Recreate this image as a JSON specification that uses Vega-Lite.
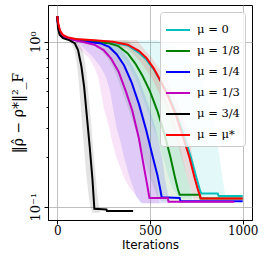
{
  "$schema": "https://vega.github.io/schema/vega-lite/v6.json",
  "width": 204,
  "height": 215,
  "autosize": {"type": "none"},
  "padding": {"left": 48, "top": 5, "right": 14, "bottom": 46},
  "config": {
    "view": {"stroke": "black", "strokeWidth": 1},
    "axis": {"domainColor": "black", "tickColor": "black", "labelColor": "black", "titleColor": "black", "gridColor": "#b0b0b0", "gridWidth": 0.8}
  },
  "datasets": {
    "lines": [
      {"s":"μ = 0","x":0,"y":1.43},{"s":"μ = 0","x":5,"y":1.25},{"s":"μ = 0","x":15,"y":1.14},{"s":"μ = 0","x":30,"y":1.08},{"s":"μ = 0","x":60,"y":1.05},{"s":"μ = 0","x":100,"y":1.03},{"s":"μ = 0","x":200,"y":1.01},{"s":"μ = 0","x":300,"y":0.99},{"s":"μ = 0","x":380,"y":0.95},{"s":"μ = 0","x":440,"y":0.86},{"s":"μ = 0","x":480,"y":0.78},{"s":"μ = 0","x":520,"y":0.68},{"s":"μ = 0","x":560,"y":0.57},{"s":"μ = 0","x":600,"y":0.47},{"s":"μ = 0","x":640,"y":0.37},{"s":"μ = 0","x":680,"y":0.28},{"s":"μ = 0","x":720,"y":0.2},{"s":"μ = 0","x":750,"y":0.15},{"s":"μ = 0","x":770,"y":0.125},{"s":"μ = 0","x":778,"y":0.12},{"s":"μ = 0","x":865,"y":0.12},{"s":"μ = 0","x":870,"y":0.116},{"s":"μ = 0","x":1000,"y":0.116},
      {"s":"μ = 1/8","x":0,"y":1.43},{"s":"μ = 1/8","x":5,"y":1.25},{"s":"μ = 1/8","x":15,"y":1.14},{"s":"μ = 1/8","x":30,"y":1.08},{"s":"μ = 1/8","x":60,"y":1.05},{"s":"μ = 1/8","x":100,"y":1.03},{"s":"μ = 1/8","x":200,"y":1.0},{"s":"μ = 1/8","x":280,"y":0.98},{"s":"μ = 1/8","x":330,"y":0.94},{"s":"μ = 1/8","x":380,"y":0.85},{"s":"μ = 1/8","x":420,"y":0.74},{"s":"μ = 1/8","x":460,"y":0.62},{"s":"μ = 1/8","x":500,"y":0.5},{"s":"μ = 1/8","x":540,"y":0.38},{"s":"μ = 1/8","x":580,"y":0.27},{"s":"μ = 1/8","x":610,"y":0.2},{"s":"μ = 1/8","x":635,"y":0.15},{"s":"μ = 1/8","x":650,"y":0.128},{"s":"μ = 1/8","x":660,"y":0.118},{"s":"μ = 1/8","x":768,"y":0.118},{"s":"μ = 1/8","x":772,"y":0.112},{"s":"μ = 1/8","x":1000,"y":0.112},
      {"s":"μ = 1/4","x":0,"y":1.43},{"s":"μ = 1/4","x":5,"y":1.25},{"s":"μ = 1/4","x":15,"y":1.14},{"s":"μ = 1/4","x":30,"y":1.08},{"s":"μ = 1/4","x":60,"y":1.05},{"s":"μ = 1/4","x":100,"y":1.02},{"s":"μ = 1/4","x":150,"y":1.0},{"s":"μ = 1/4","x":230,"y":0.98},{"s":"μ = 1/4","x":280,"y":0.93},{"s":"μ = 1/4","x":320,"y":0.84},{"s":"μ = 1/4","x":360,"y":0.72},{"s":"μ = 1/4","x":400,"y":0.57},{"s":"μ = 1/4","x":440,"y":0.42},{"s":"μ = 1/4","x":480,"y":0.29},{"s":"μ = 1/4","x":515,"y":0.2},{"s":"μ = 1/4","x":540,"y":0.155},{"s":"μ = 1/4","x":555,"y":0.128},{"s":"μ = 1/4","x":563,"y":0.114},{"s":"μ = 1/4","x":660,"y":0.113},{"s":"μ = 1/4","x":664,"y":0.108},{"s":"μ = 1/4","x":1000,"y":0.108},
      {"s":"μ = 1/3","x":0,"y":1.43},{"s":"μ = 1/3","x":5,"y":1.25},{"s":"μ = 1/3","x":15,"y":1.14},{"s":"μ = 1/3","x":30,"y":1.08},{"s":"μ = 1/3","x":60,"y":1.04},{"s":"μ = 1/3","x":100,"y":1.02},{"s":"μ = 1/3","x":150,"y":0.99},{"s":"μ = 1/3","x":200,"y":0.96},{"s":"μ = 1/3","x":250,"y":0.89},{"s":"μ = 1/3","x":290,"y":0.79},{"s":"μ = 1/3","x":330,"y":0.66},{"s":"μ = 1/3","x":370,"y":0.5},{"s":"μ = 1/3","x":405,"y":0.38},{"s":"μ = 1/3","x":440,"y":0.26},{"s":"μ = 1/3","x":465,"y":0.18},{"s":"μ = 1/3","x":485,"y":0.135},{"s":"μ = 1/3","x":497,"y":0.113},{"s":"μ = 1/3","x":596,"y":0.113},{"s":"μ = 1/3","x":600,"y":0.107},{"s":"μ = 1/3","x":955,"y":0.107},
      {"s":"μ = 3/4","x":0,"y":1.43},{"s":"μ = 3/4","x":4,"y":1.21},{"s":"μ = 3/4","x":13,"y":1.1},{"s":"μ = 3/4","x":31,"y":1.05},{"s":"μ = 3/4","x":67,"y":1.02},{"s":"μ = 3/4","x":94,"y":0.98},{"s":"μ = 3/4","x":112,"y":0.89},{"s":"μ = 3/4","x":130,"y":0.71},{"s":"μ = 3/4","x":145,"y":0.53},{"s":"μ = 3/4","x":157,"y":0.38},{"s":"μ = 3/4","x":175,"y":0.23},{"s":"μ = 3/4","x":190,"y":0.145},{"s":"μ = 3/4","x":200,"y":0.097},{"s":"μ = 3/4","x":265,"y":0.096},{"s":"μ = 3/4","x":268,"y":0.094},{"s":"μ = 3/4","x":409,"y":0.094},
      {"s":"μ = μ*","x":0,"y":1.43},{"s":"μ = μ*","x":5,"y":1.3},{"s":"μ = μ*","x":15,"y":1.17},{"s":"μ = μ*","x":30,"y":1.1},{"s":"μ = μ*","x":60,"y":1.06},{"s":"μ = μ*","x":100,"y":1.04},{"s":"μ = μ*","x":200,"y":1.02},{"s":"μ = μ*","x":300,"y":1.0},{"s":"μ = μ*","x":380,"y":0.96},{"s":"μ = μ*","x":440,"y":0.88},{"s":"μ = μ*","x":480,"y":0.8},{"s":"μ = μ*","x":520,"y":0.69},{"s":"μ = μ*","x":560,"y":0.57},{"s":"μ = μ*","x":600,"y":0.46},{"s":"μ = μ*","x":640,"y":0.36},{"s":"μ = μ*","x":680,"y":0.26},{"s":"μ = μ*","x":712,"y":0.2},{"s":"μ = μ*","x":740,"y":0.15},{"s":"μ = μ*","x":760,"y":0.125},{"s":"μ = μ*","x":775,"y":0.112},{"s":"μ = μ*","x":1000,"y":0.112}
    ],
    "bands": [
      {"s":"μ = 0","y":1.02,"lo":200,"hi":540},{"s":"μ = 0","y":0.9,"lo":300,"hi":660},{"s":"μ = 0","y":0.8,"lo":350,"hi":710},{"s":"μ = 0","y":0.7,"lo":390,"hi":745},{"s":"μ = 0","y":0.6,"lo":420,"hi":775},{"s":"μ = 0","y":0.5,"lo":450,"hi":800},{"s":"μ = 0","y":0.4,"lo":480,"hi":825},{"s":"μ = 0","y":0.3,"lo":520,"hi":850},{"s":"μ = 0","y":0.25,"lo":545,"hi":862},{"s":"μ = 0","y":0.2,"lo":570,"hi":875},{"s":"μ = 0","y":0.15,"lo":600,"hi":890},{"s":"μ = 0","y":0.13,"lo":620,"hi":900},{"s":"μ = 0","y":0.12,"lo":640,"hi":905},{"s":"μ = 0","y":0.112,"lo":660,"hi":905},
      {"s":"μ = 1/8","y":1.02,"lo":150,"hi":380},{"s":"μ = 1/8","y":0.9,"lo":230,"hi":430},{"s":"μ = 1/8","y":0.8,"lo":270,"hi":470},{"s":"μ = 1/8","y":0.7,"lo":300,"hi":510},{"s":"μ = 1/8","y":0.6,"lo":325,"hi":545},{"s":"μ = 1/8","y":0.5,"lo":350,"hi":570},{"s":"μ = 1/8","y":0.4,"lo":380,"hi":600},{"s":"μ = 1/8","y":0.3,"lo":420,"hi":640},{"s":"μ = 1/8","y":0.25,"lo":440,"hi":655},{"s":"μ = 1/8","y":0.2,"lo":465,"hi":675},{"s":"μ = 1/8","y":0.15,"lo":500,"hi":700},{"s":"μ = 1/8","y":0.13,"lo":520,"hi":715},{"s":"μ = 1/8","y":0.115,"lo":540,"hi":725},{"s":"μ = 1/8","y":0.108,"lo":560,"hi":735},
      {"s":"μ = 1/4","y":1.02,"lo":100,"hi":280},{"s":"μ = 1/4","y":0.9,"lo":150,"hi":345},{"s":"μ = 1/4","y":0.8,"lo":195,"hi":380},{"s":"μ = 1/4","y":0.7,"lo":235,"hi":410},{"s":"μ = 1/4","y":0.6,"lo":265,"hi":440},{"s":"μ = 1/4","y":0.5,"lo":285,"hi":465},{"s":"μ = 1/4","y":0.4,"lo":300,"hi":495},{"s":"μ = 1/4","y":0.3,"lo":320,"hi":530},{"s":"μ = 1/4","y":0.25,"lo":340,"hi":545},{"s":"μ = 1/4","y":0.2,"lo":360,"hi":565},{"s":"μ = 1/4","y":0.15,"lo":390,"hi":580},{"s":"μ = 1/4","y":0.13,"lo":410,"hi":590},{"s":"μ = 1/4","y":0.115,"lo":426,"hi":600},{"s":"μ = 1/4","y":0.105,"lo":450,"hi":605},
      {"s":"μ = 1/3","y":1.02,"lo":60,"hi":230},{"s":"μ = 1/3","y":0.9,"lo":120,"hi":300},{"s":"μ = 1/3","y":0.8,"lo":170,"hi":340},{"s":"μ = 1/3","y":0.7,"lo":200,"hi":370},{"s":"μ = 1/3","y":0.6,"lo":222,"hi":400},{"s":"μ = 1/3","y":0.5,"lo":235,"hi":425},{"s":"μ = 1/3","y":0.4,"lo":250,"hi":455},{"s":"μ = 1/3","y":0.3,"lo":280,"hi":485},{"s":"μ = 1/3","y":0.25,"lo":295,"hi":500},{"s":"μ = 1/3","y":0.2,"lo":318,"hi":515},{"s":"μ = 1/3","y":0.15,"lo":360,"hi":530},{"s":"μ = 1/3","y":0.13,"lo":390,"hi":540},{"s":"μ = 1/3","y":0.115,"lo":430,"hi":545},{"s":"μ = 1/3","y":0.105,"lo":460,"hi":550},
      {"s":"μ = 3/4","y":1.0,"lo":70,"hi":110},{"s":"μ = 3/4","y":0.9,"lo":90,"hi":135},{"s":"μ = 3/4","y":0.8,"lo":100,"hi":145},{"s":"μ = 3/4","y":0.7,"lo":108,"hi":153},{"s":"μ = 3/4","y":0.6,"lo":114,"hi":160},{"s":"μ = 3/4","y":0.5,"lo":120,"hi":167},{"s":"μ = 3/4","y":0.4,"lo":127,"hi":175},{"s":"μ = 3/4","y":0.3,"lo":135,"hi":185},{"s":"μ = 3/4","y":0.2,"lo":148,"hi":198},{"s":"μ = 3/4","y":0.15,"lo":158,"hi":208},{"s":"μ = 3/4","y":0.12,"lo":168,"hi":216},{"s":"μ = 3/4","y":0.1,"lo":178,"hi":225},{"s":"μ = 3/4","y":0.092,"lo":190,"hi":230},
      {"s":"μ = μ*","y":1.02,"lo":250,"hi":430},{"s":"μ = μ*","y":0.9,"lo":380,"hi":470},{"s":"μ = μ*","y":0.8,"lo":430,"hi":510},{"s":"μ = μ*","y":0.7,"lo":470,"hi":545},{"s":"μ = μ*","y":0.6,"lo":510,"hi":585},{"s":"μ = μ*","y":0.5,"lo":545,"hi":620},{"s":"μ = μ*","y":0.4,"lo":585,"hi":660},{"s":"μ = μ*","y":0.3,"lo":625,"hi":700},{"s":"μ = μ*","y":0.25,"lo":645,"hi":715},{"s":"μ = μ*","y":0.2,"lo":670,"hi":730},{"s":"μ = μ*","y":0.15,"lo":700,"hi":755},{"s":"μ = μ*","y":0.13,"lo":715,"hi":770},{"s":"μ = μ*","y":0.115,"lo":730,"hi":780},{"s":"μ = μ*","y":0.108,"lo":740,"hi":785}
    ]
  },
  "resolve": {"scale": {"color": "independent"}, "legend": {"color": "independent"}},
  "layer": [
    {
      "data": {"name": "bands"},
      "mark": {"type": "area", "orient": "horizontal", "opacity": 0.11},
      "encoding": {
        "y": {"field": "y", "type": "quantitative", "scale": {"type": "log", "domain": [0.083, 1.67], "nice": false}},
        "x": {"field": "lo", "type": "quantitative", "scale": {"domain": [-50, 1050], "nice": false}},
        "x2": {"field": "hi"},
        "color": {"field": "s", "type": "nominal", "legend": null,
          "scale": {"domain": ["μ = 0","μ = 1/8","μ = 1/4","μ = 1/3","μ = 3/4","μ = μ*"], "range": ["#00bfbf","#008000","#0000ff","#bf00bf","#000000","#ff0000"]}}
      }
    },
    {
      "data": {"name": "lines"},
      "mark": {"type": "line", "strokeWidth": 2, "strokeJoin": "miter"},
      "encoding": {
        "x": {"field": "x", "type": "quantitative", "scale": {"domain": [-50, 1050], "nice": false},
          "axis": {"values": [0, 500, 1000], "format": "d", "title": "Iterations", "titleFont": "DejaVu Sans", "titleFontSize": 12, "titleFontWeight": "normal", "titlePadding": 3, "labelFont": "DejaVu Serif", "labelFontSize": 12, "labelPadding": 1, "tickSize": 4, "grid": true}},
        "y": {"field": "y", "type": "quantitative", "scale": {"type": "log", "domain": [0.083, 1.67], "nice": false},
          "axis": {"values": [0.1, 0.2, 0.3, 0.4, 0.5, 0.6, 0.7, 0.8, 0.9, 1], "labelExpr": "datum.value == 1 ? '10⁰' : (datum.value == 0.1 ? '10⁻¹' : '')", "labelAngle": -90, "labelFont": "DejaVu Serif", "labelFontSize": 13, "labelPadding": 2,
            "tickSize": {"condition": {"test": "datum.value == 1 || datum.value == 0.1", "value": 4}, "value": 2},
            "gridOpacity": {"condition": {"test": "datum.value == 1 || datum.value == 0.1", "value": 1}, "value": 0},
            "grid": true, "title": "‖ρ̂ − ρ*‖²_F", "titleFont": "DejaVu Serif", "titleFontSize": 14, "titleFontWeight": "normal", "titlePadding": 4}},
        "color": {"field": "s", "type": "nominal",
          "scale": {"domain": ["μ = 0","μ = 1/8","μ = 1/4","μ = 1/3","μ = 3/4","μ = μ*"], "range": ["#00bfbf","#008000","#0000ff","#bf00bf","#000000","#ff0000"]},
          "legend": {"title": null, "orient": "top-right", "offset": 7, "fillColor": "rgba(255,255,255,0.8)", "strokeColor": "#cccccc", "cornerRadius": 3, "padding": 5, "symbolType": "stroke", "symbolStrokeWidth": 2, "symbolSize": 576, "labelFont": "DejaVu Serif", "labelFontSize": 11.5, "labelColor": "black", "rowPadding": 2, "labelOffset": 6}}
      }
    }
  ]
}
